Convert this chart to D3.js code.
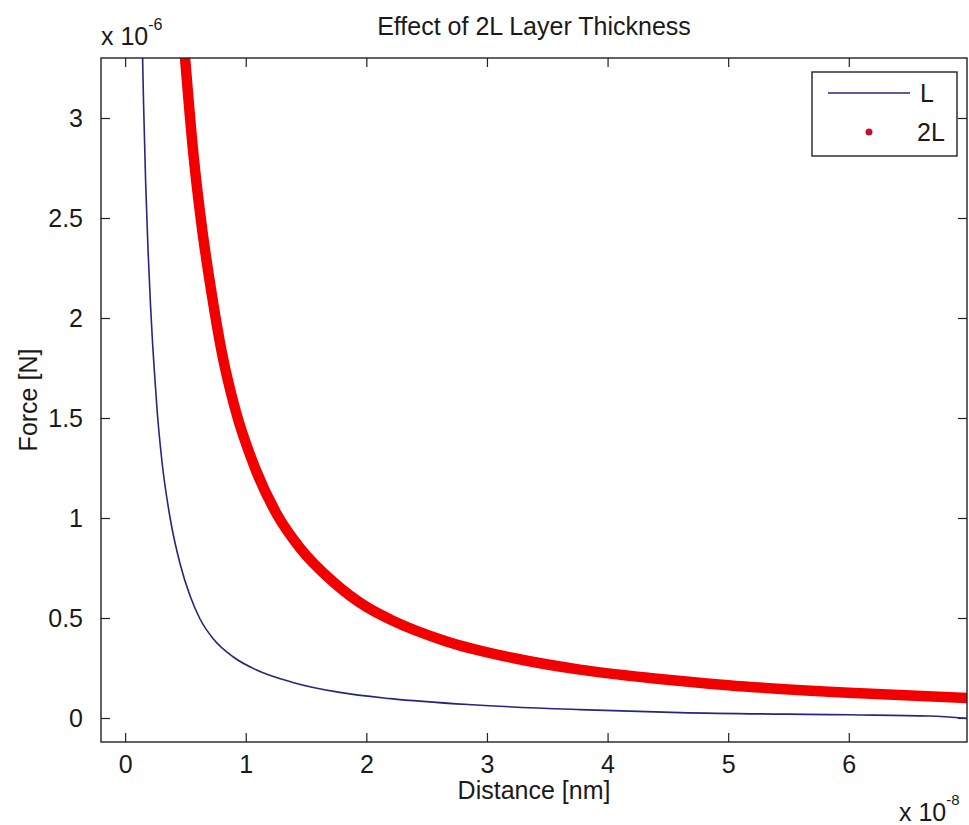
<!DOCTYPE html>
<html>
<head>
<meta charset="utf-8">
<script src="https://cdn.jsdelivr.net/npm/d3@7"></script>
<style>
  body { margin: 0; background: #fff; }
  text { font-family: "Liberation Sans", Arial, sans-serif; fill: #1a1a1a; }
</style>
</head>
<body>
<div id="chart"></div>
<script>
// distance in units of 1e-8 m, force in units of 1e-6 N
var dist_L  = [0.145, 0.153, 0.17, 0.19, 0.21, 0.228, 0.243, 0.265, 0.304, 0.373, 0.456, 0.539, 0.621, 0.732, 0.897, 1.09, 1.39, 1.78, 2.2, 2.88, 3.77, 4.6, 6.0, 6.67, 6.98];
var force_L = [3.3, 3.07, 2.68, 2.34, 2.07, 1.87, 1.73, 1.54, 1.29, 1.0, 0.77, 0.61, 0.495, 0.395, 0.305, 0.24, 0.178, 0.128, 0.097, 0.066, 0.042, 0.027, 0.016, 0.01, -0.002];

var dist_2L  = [0.497, 0.566, 0.635, 0.718, 0.801, 0.91, 1.077, 1.257, 1.45, 1.726, 2.0, 2.2, 2.665, 3.217, 3.77, 4.35, 5.0, 6.0, 6.98];
var force_2L = [3.3, 2.82, 2.46, 2.12, 1.83, 1.55, 1.25, 1.02, 0.85, 0.68, 0.556, 0.492, 0.383, 0.3, 0.242, 0.2, 0.164, 0.126, 0.1];

var x_ticks = [0, 1, 2, 3, 4, 5, 6];
var y_ticks = [0, 0.5, 1, 1.5, 2, 2.5, 3];
var series_names = ["L", "2L"];

var W = 969, H = 825;
var box = {left: 101, top: 58, right: 967, bottom: 742};
var fs = 25;

var svg = d3.select("#chart")
    .append("svg")
    .attr("width", W)
    .attr("height", H);

svg.append("rect").attr("width", W).attr("height", H).attr("fill", "#fff");

var x = d3.scaleLinear().domain([-0.2, 6.98]).range([box.left, box.right]);
var y = d3.scaleLinear().domain([-0.12, 3.3]).range([box.bottom, box.top]);

svg.append("clipPath").attr("id", "clip")
    .append("rect")
    .attr("x", box.left).attr("y", box.top)
    .attr("width", box.right - box.left).attr("height", box.bottom - box.top);

// axes with inward ticks on all four sides
var tickLen = 9;
function styleAxis(g) {
    g.select(".domain").remove();
    g.selectAll(".tick line").attr("stroke", "#222").attr("stroke-width", 1.2);
    g.selectAll(".tick text").attr("font-size", fs).attr("font-family", "Liberation Sans, Arial, sans-serif").attr("fill", "#1a1a1a");
}

svg.append("g")
    .attr("transform", "translate(0," + box.bottom + ")")
    .call(d3.axisBottom(x).tickValues(x_ticks).tickFormat(d3.format("d")).tickSizeInner(-tickLen).tickSizeOuter(0).tickPadding(tickLen + 4))
    .call(styleAxis);

svg.append("g")
    .attr("transform", "translate(0," + box.top + ")")
    .call(d3.axisTop(x).tickValues(x_ticks).tickFormat("").tickSizeInner(-tickLen).tickSizeOuter(0))
    .call(styleAxis);

svg.append("g")
    .attr("transform", "translate(" + box.left + ",0)")
    .call(d3.axisLeft(y).tickValues(y_ticks).tickFormat(function (d) { return String(d); }).tickSizeInner(-tickLen).tickSizeOuter(0).tickPadding(tickLen + 9))
    .call(styleAxis);

svg.append("g")
    .attr("transform", "translate(" + box.right + ",0)")
    .call(d3.axisRight(y).tickValues(y_ticks).tickFormat("").tickSizeInner(-tickLen).tickSizeOuter(0))
    .call(styleAxis);

// lines
var line = d3.line()
    .x(function (d) { return x(d[0]); })
    .y(function (d) { return y(d[1]); })
    .curve(d3.curveMonotoneX);

var plot = svg.append("g").attr("clip-path", "url(#clip)");

plot.append("path")
    .attr("d", line(d3.zip(dist_2L, force_2L)))
    .attr("fill", "none")
    .attr("stroke", "#f20000")
    .attr("stroke-width", 10.5)
    .attr("stroke-linecap", "round")
    .attr("stroke-linejoin", "round");

plot.append("path")
    .attr("d", line(d3.zip(dist_L, force_L)))
    .attr("fill", "none")
    .attr("stroke", "#262680")
    .attr("stroke-width", 1.6);

// box
svg.append("rect")
    .attr("x", box.left).attr("y", box.top)
    .attr("width", box.right - box.left).attr("height", box.bottom - box.top)
    .attr("fill", "none").attr("stroke", "#222").attr("stroke-width", 1.4);

// title and labels
svg.append("text")
    .attr("x", (box.left + box.right) / 2).attr("y", 35)
    .attr("text-anchor", "middle").attr("font-size", fs)
    .text("Effect of 2L Layer Thickness");

svg.append("text")
    .attr("x", (box.left + box.right) / 2).attr("y", 799)
    .attr("text-anchor", "middle").attr("font-size", fs)
    .text("Distance [nm]");

svg.append("text")
    .attr("transform", "translate(37," + ((box.top + box.bottom) / 2) + ") rotate(-90)")
    .attr("text-anchor", "middle").attr("font-size", fs)
    .text("Force [N]");

// exponent labels
var ey = svg.append("text").attr("x", 101).attr("y", 45).attr("font-size", fs);
ey.append("tspan").text("x 10");
ey.append("tspan").attr("dy", -15).attr("font-size", 16).text("-6");

var ex = svg.append("text").attr("x", 899).attr("y", 821).attr("font-size", fs);
ex.append("tspan").text("x 10");
ex.append("tspan").attr("dy", -16).attr("font-size", 15).text("-8");

// legend
var leg = svg.append("g");
leg.append("rect")
    .attr("x", 812).attr("y", 72).attr("width", 145).attr("height", 84)
    .attr("fill", "#fff").attr("stroke", "#222").attr("stroke-width", 1.4);
leg.append("line")
    .attr("x1", 828).attr("x2", 910).attr("y1", 93).attr("y2", 93)
    .attr("stroke", "#262680").attr("stroke-width", 1.6);
leg.append("circle")
    .attr("cx", 869).attr("cy", 132).attr("r", 3.5)
    .attr("fill", "#c8102e");
leg.selectAll("text.leg")
    .data(series_names)
    .enter()
    .append("text")
    .attr("class", "leg")
    .attr("x", function (d, i) { return i === 0 ? 920 : 917; })
    .attr("y", function (d, i) { return i === 0 ? 102 : 141; })
    .attr("font-size", fs)
    .text(function (d) { return d; });
</script>
</body>
</html>
